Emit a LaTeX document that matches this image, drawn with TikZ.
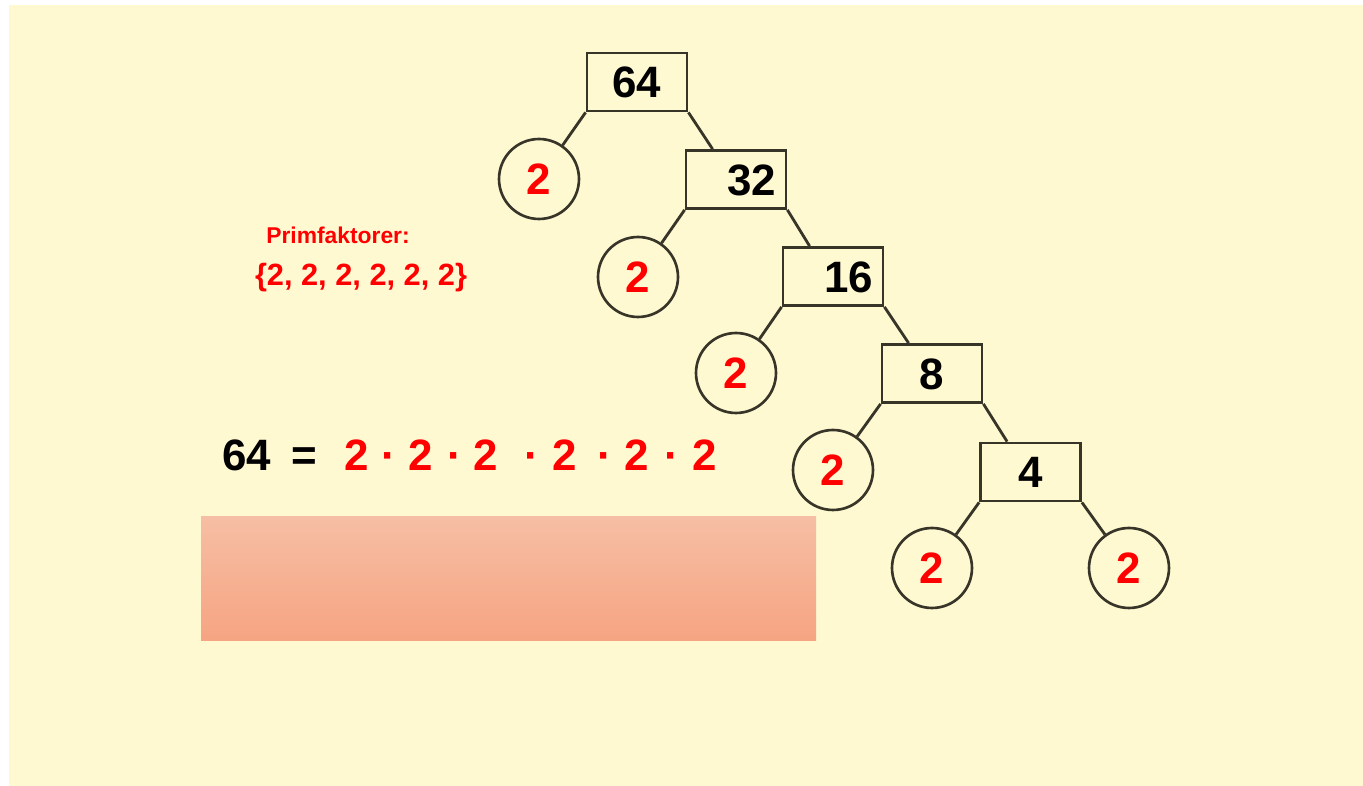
\documentclass[tikz,border=0pt]{standalone}
\usepackage{fontspec}
\setmainfont{Liberation Sans}
\usetikzlibrary{positioning}
\definecolor{cream}{RGB}{255,249,210}
\definecolor{edge}{RGB}{55,52,40}
\definecolor{salmontop}{RGB}{246,190,164}
\definecolor{salmonbot}{RGB}{246,164,130}
\begin{document}
\begin{tikzpicture}[x=0.02cm,y=-0.02cm,
  numbox/.style={draw=edge,line width=1.6pt,minimum width=2cm,minimum height=1.16cm,inner sep=0pt,text height=18pt,text depth=0pt,font=\fontsize{25}{30}\selectfont\bfseries},
  rightbox/.style={numbox,text width=1.6cm,inner xsep=0.2cm,align=right},
  prime/.style={circle,draw=edge,line width=1.5pt,minimum size=1.6cm,inner sep=0pt,text=red,text height=18pt,text depth=0pt,font=\fontsize{25}{30}\selectfont\bfseries},
  eqpart/.style={text height=18pt,text depth=0pt,inner sep=0pt,font=\fontsize{25}{30}\selectfont\bfseries},
  branch/.style={draw=edge,line width=1.6pt}]
\useasboundingbox (0,0) rectangle (1363,786);
\fill[cream] (9,5) rectangle (1363,786);

%factor tree
\node[numbox] (b64) at (637,82) {64};
\node[rightbox] (b32) at (736,179.5) {32};
\node[rightbox] (b16) at (833,276.5) {16};
\node[numbox] (b8) at (932,373.5) {8};
\node[numbox] (b4) at (1030.5,472) {4};

\node[prime] (p1) at (539,179) {2};
\node[prime] (p2) at (638,277) {2};
\node[prime] (p3) at (736,373) {2};
\node[prime] (p4) at (833,470) {2};
\node[prime] (p5) at (932,568) {2};
\node[prime] (p6) at (1129,568) {2};

\foreach \a/\b/\p in {b64/b32/p1, b32/b16/p2, b16/b8/p3, b8/b4/p4}{
  \draw[branch] (\a.south west) -- (\p);
  \draw[branch] (\a.south east) -- ([xshift=0.56cm]\b.north west);
}
\draw[branch] (b4.south west) -- (p5);
\draw[branch] (b4.south east) -- (p6);

%prime factors
\node[text=red,font=\fontsize{13}{15}\selectfont\bfseries] (pf) at (338,235) {Primfaktorer:};
\node[text=red,font=\fontsize{17.5}{20}\selectfont\bfseries] (pset) at (361,278) {\{2, 2, 2, 2, 2, 2\}};

%product
\node[eqpart] (lhs) at (246.5,455) {64};
\node[eqpart] (eq) at (304.5,455) {=};
\foreach \x [count=\i] in {356.5,420.5,486,564.5,636.5,705}
  \node[eqpart,text=red] (f\i) at (\x,455) {2};
\foreach \x [count=\i] in {389,455,532,605,672}
  \node[eqpart,text=red] (d\i) at (\x,455) {\textperiodcentered};

%answer field
\shade[top color=salmontop,bottom color=salmonbot] (201,517) rectangle (816,641);
\end{tikzpicture}
\end{document}
